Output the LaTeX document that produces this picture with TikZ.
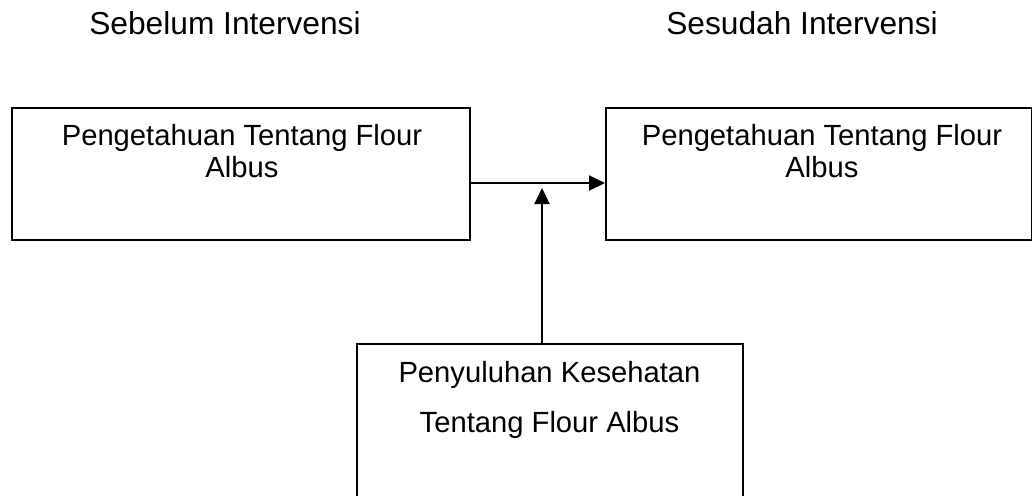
\documentclass[tikz,border=0pt]{standalone}
\usepackage{fontspec}
\setmainfont{Liberation Sans}
\usetikzlibrary{arrows.meta}
\begin{document}
\begin{tikzpicture}[x=1pt,y=-1pt,
  boxnode/.style={draw=black, line width=1.8pt, inner sep=0pt, anchor=north west},
  boxtext/.style={inner sep=0pt, anchor=north, align=center},
  titletext/.style={inner sep=0pt, anchor=base, font=\fontsize{31.7}{34}\selectfont},
  conn/.style={line width=2pt, -{Triangle[length=16pt,width=15pt]}}]
\useasboundingbox (0,0) rectangle (1032,495);
% titles
\node[titletext] (t1) at (225,34.3) {Sebelum Intervensi};
\node[titletext] (t2) at (802,34.3) {Sesudah Intervensi};
% boxes
\node[boxnode, minimum width=458pt, minimum height=132pt] (before) at (11,107) {};
\node[boxnode, minimum width=426pt, minimum height=132pt] (after) at (605,107) {};
\node[boxnode, minimum width=386pt, minimum height=180pt] (edu) at (356,343) {};
% texts
\node[boxtext, font=\fontsize{29.2}{32}\selectfont] (beforetxt) at (242,124.2) {Pengetahuan Tentang Flour\\Albus};
\node[boxtext, font=\fontsize{29.2}{32}\selectfont] (aftertxt) at (822,124.2) {Pengetahuan Tentang Flour\\Albus};
\node[boxtext, font=\fontsize{29.2}{50}\selectfont] (edutxt) at (549.5,360.8) {Penyuluhan Kesehatan\\Tentang Flour Albus};
% connectors
\coordinate (mid) at (542,183);
\coordinate (tip) at (542,188);
\draw[conn] (before.east |- mid) -- (after.west |- mid);
\draw[conn] (edu.north -| tip) -- (tip);
\end{tikzpicture}
\end{document}
